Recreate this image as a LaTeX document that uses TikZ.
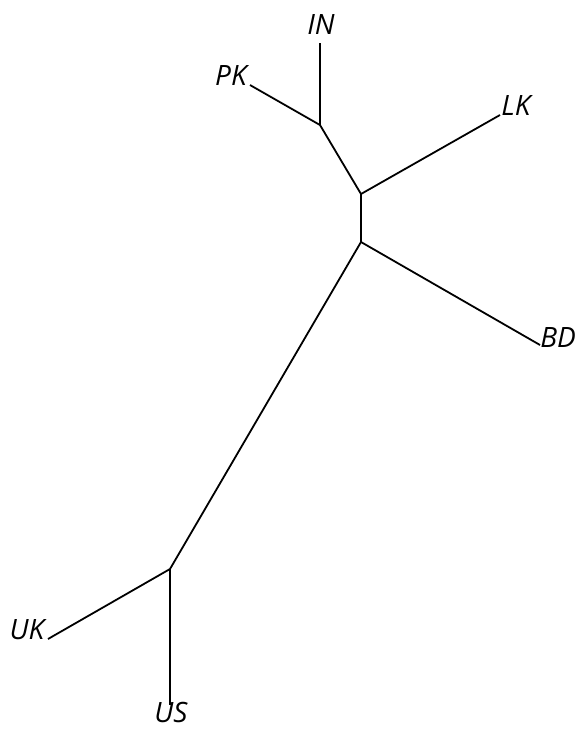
\documentclass[tikz,border=0pt]{standalone}
\usepackage{fontspec}
\setmainfont{Open Sans}
\usetikzlibrary{positioning}

\begin{document}
\begin{tikzpicture}[x=0.5pt,y=-0.5pt,line width=0.9pt,
                    leaf/.style={font=\fontsize{14}{16}\selectfont\itshape,inner sep=0pt}]
					
					\useasboundingbox (0,0) rectangle (577,729);
					
					% inner vertices of the tree
					\coordinate (nA) at (320,125);
					\coordinate (nB) at (361,194);
					\coordinate (nC) at (361,242);
					\coordinate (nD) at (170,569);
					
					% free ends of the branches
					\coordinate (inEnd) at (320,43);
					\coordinate (pkEnd) at (250,85);
					\coordinate (lkEnd) at (500,115);
					\coordinate (bdEnd) at (540,345);
					\coordinate (ukEnd) at (48,639);
					\coordinate (usEnd) at (170,705);
					
					\node[leaf] (IN) at (321,25) {IN};
					\node[leaf] (PK) at (231,76) {PK};
					\node[leaf] (LK) at (516,106) {LK};
					\node[leaf] (BD) at (558,337) {BD};
					\node[leaf] (UK) at (27,630) {UK};
					\node[leaf] (US) at (171,712) {US};
					
					\draw (nA) -- (inEnd);
					\draw (nA) -- (pkEnd);
					\draw (nA) -- (nB);
					\draw (nB) -- (lkEnd);
					\draw (nB) -- (nC);
					\draw (nC) -- (bdEnd);
					\draw (nC) -- (nD);
					\draw (nD) -- (ukEnd);
					\draw (nD) -- (usEnd);
					    
				\end{tikzpicture}
\end{document}
